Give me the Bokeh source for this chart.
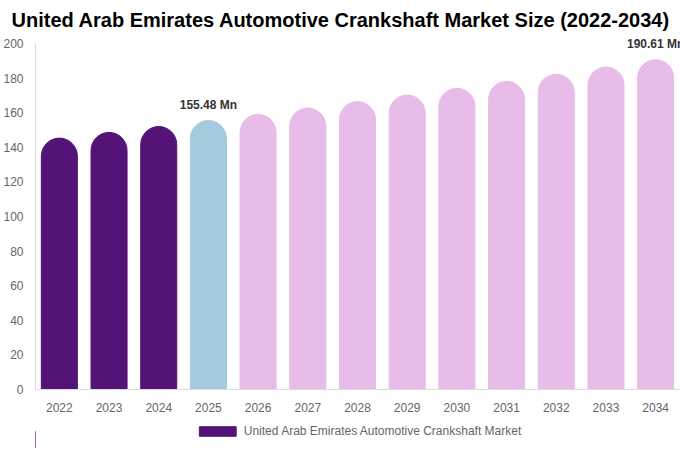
from bokeh.plotting import figure
from bokeh.layouts import column
from bokeh.models import ColumnDataSource, Label, Legend, LegendItem, Range1d, FixedTicker, Title
from bokeh.embed import file_html
from bokeh.resources import INLINE

years = ["2022", "2023", "2024", "2025", "2026", "2027", "2028", "2029", "2030", "2031", "2032", "2033", "2034"]
values = [145.3, 148.6, 152.0, 155.48, 159.0, 162.7, 166.4, 170.2, 174.1, 178.1, 182.2, 186.4, 190.61]
colors = ["#541376", "#541376", "#541376", "#A4CADE", "#E7BCE8", "#E7BCE8", "#E7BCE8", "#E7BCE8",
          "#E7BCE8", "#E7BCE8", "#E7BCE8", "#E7BCE8", "#E7BCE8"]
label_years = ["2025", "2034"]
label_texts = ["155.48 Mn", "190.61 Mn"]
series_name = "United Arab Emirates Automotive Crankshaft Market"
title_text = "United Arab Emirates Automotive Crankshaft Market Size (2022-2034)"
y_ticks = [0, 20, 40, 60, 80, 100, 120, 140, 160, 180, 200]

xs = list(range(len(years)))
src = ColumnDataSource(dict(x=xs, top=values, color=colors))

p = figure(frame_width=645, frame_height=359, output_backend="svg", toolbar_location=None,
           x_range=Range1d(-0.48, 12.5), y_range=Range1d(0, 207.5),
           min_border_left=35, min_border_right=0, min_border_top=30, min_border_bottom=0,
           title=None)
p.add_layout(Title(text=title_text, align="left", offset=-24, text_font="Liberation Sans",
                   text_font_size="20px", text_font_style="bold", text_color="#000000",
                   standoff=0), "above")

r = p.vbar(x="x", top="top", width=0.725, source=src, fill_color="color",
           line_color="color", border_radius=(18, 18, 0, 0))

p.xgrid.visible = False
p.ygrid.visible = False
p.outline_line_color = None

for ax in (p.xaxis[0], p.yaxis[0]):
    ax.axis_line_color = "#DDDDDD"
    ax.major_tick_line_color = None
    ax.minor_tick_line_color = None
    ax.major_tick_out = 0
    ax.major_tick_in = 0
    ax.minor_tick_out = 0
    ax.major_label_text_font = "Liberation Sans"
    ax.major_label_text_font_size = "12px"
    ax.major_label_text_color = "#666666"

p.xaxis.ticker = FixedTicker(ticks=xs)
p.xaxis.major_label_overrides = {i: y for i, y in enumerate(years)}
p.xaxis.major_label_standoff = 13
p.yaxis.ticker = FixedTicker(ticks=y_ticks)
p.yaxis.major_label_standoff = 12
p.yaxis.bounds = (0, 200)

for yr, txt in zip(label_years, label_texts):
    i = years.index(yr)
    p.add_layout(Label(x=xs[i], y=values[i], text=txt, text_align="center",
                       text_baseline="bottom", y_offset=9, text_font="Liberation Sans",
                       text_font_size="12px", text_font_style="bold", text_color="#333333"))

# legend strip below the chart (its swatch renderer sits outside the visible range)
p2 = figure(width=680, height=34, output_backend="svg", toolbar_location=None,
            x_range=Range1d(0, 1), y_range=Range1d(0, 1),
            x_axis_location=None, y_axis_location=None, min_border=0, title=None)
p2.xgrid.visible = False
p2.ygrid.visible = False
p2.outline_line_color = None
r2 = p2.vbar(x=[-5.0], top=[0.5], width=0.5, fill_color=colors[0], line_color=colors[0])
legend = Legend(items=[LegendItem(label=series_name, renderers=[r2])],
                orientation="horizontal", location="center", glyph_width=46, glyph_height=12,
                label_text_font="Liberation Sans", label_text_font_size="12px",
                label_text_color="#666666", border_line_color=None, background_fill_alpha=0,
                padding=0, margin=0, label_standoff=4, label_height=14)
p2.add_layout(legend, "center")

layout = column(p, p2, spacing=0)
open("out.html", "w").write(file_html(layout, INLINE))
